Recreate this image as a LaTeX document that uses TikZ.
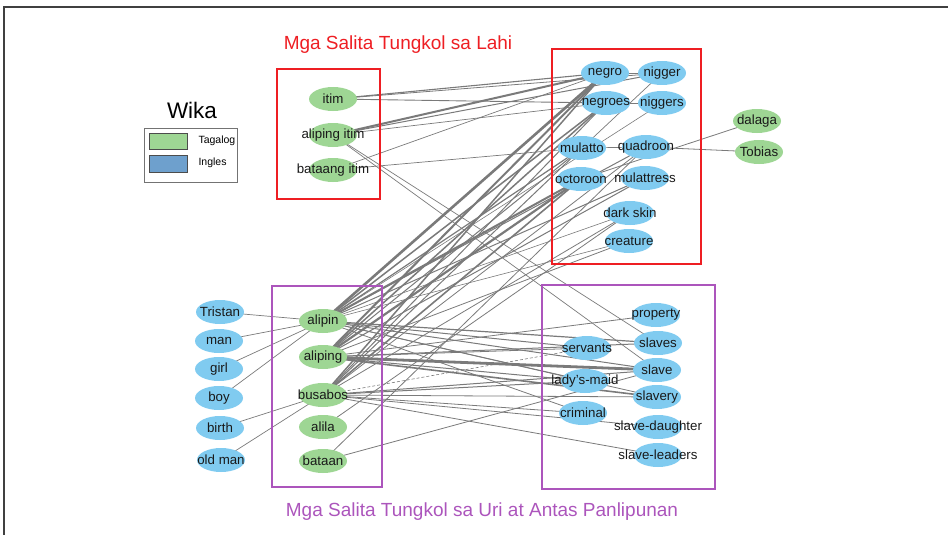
\documentclass[tikz,border=0pt]{standalone}
\usepackage{fontspec}
\setmainfont{Liberation Sans}
\usetikzlibrary{shapes.geometric}
\pgfdeclarelayer{bg}
\pgfsetlayers{bg,main}
\definecolor{gfill}{RGB}{158,214,148}
\definecolor{bfill}{RGB}{128,203,240}
\definecolor{lgreen}{RGB}{158,214,148}
\definecolor{lblue}{RGB}{110,160,205}
\definecolor{redc}{RGB}{238,30,35}
\definecolor{purc}{RGB}{172,85,188}
\definecolor{egray}{RGB}{122,122,122}
\newcommand\zb[1]{\makebox[0pt]{#1}}
\tikzset{
  tn/.style={ellipse, draw=none, fill=gfill, minimum width=48pt, minimum height=24pt,
    inner sep=0pt, font=\fontsize{13.3}{13.3}\selectfont, text=black!90},
  en/.style={tn, fill=bfill},
  ed/.style={draw=egray, line width=#1},
  ed/.default=0.7pt,
  edd/.style={draw=egray, line width=0.6pt, dash pattern=on 3pt off 2pt},
  grpbox/.style={line width=1.1pt}
}
\begin{document}
\begin{tikzpicture}[x=1pt,y=-1pt]
\useasboundingbox (0,0) rectangle (948,535);
% outer frame (top and left only)
\draw[black!75, line width=1.3pt] (4,535) -- (4,7) -- (948,7);
% titles
\node[text=redc, font=\fontsize{19}{19}\selectfont] (t1) at (398,45) {Mga Salita Tungkol sa Lahi};
\node[text=purc, font=\fontsize{19}{19}\selectfont] (t2) at (482,512) {Mga Salita Tungkol sa Uri at Antas Panlipunan};
\node[font=\fontsize{22.5}{22.5}\selectfont] (wika) at (192,110) {Wika};
% legend
\draw[black!55, line width=0.8pt, fill=white] (144,128) rectangle (237,182);
\draw[black!70, fill=lgreen, line width=0.6pt] (149,133) rectangle (187,149);
\draw[black!70, fill=lblue, line width=0.6pt] (149,155) rectangle (187,172);
\node[anchor=west, font=\fontsize{10.5}{10.5}\selectfont] (lt) at (195,141) {Tagalog};
\node[anchor=west, font=\fontsize{10.5}{10.5}\selectfont] (li) at (195,163) {Ingles};
% group boxes
\draw[redc, grpbox] (277,69) rectangle (380,199);
\draw[redc, grpbox] (552,49) rectangle (701,264);
\draw[purc, grpbox] (272,286) rectangle (382,487);
\draw[purc, grpbox] (542,285) rectangle (715,489);
% top-left Tagalog
\node[tn] (itim) at (333,99) {\zb{itim}};
\node[tn] (alitim) at (333,135) {\zb{aliping itim}};
\node[tn] (batitim) at (333,170) {\zb{bataang itim}};
% top-right English
\node[en] (negro) at (605,73) {\zb{negro}};
\node[en] (nigger) at (662,73) {\zb{nigger}};
\node[en] (negroes) at (606,103) {\zb{negroes}};
\node[en] (niggers) at (662,103) {\zb{niggers}};
\node[en] (mulatto) at (582,148) {\zb{mulatto}};
\node[en] (quad) at (646,147) {\zb{quadroon}};
\node[en] (octo) at (581,179) {\zb{octoroon}};
\node[en] (mulattress) at (645,178) {\zb{mulattress}};
\node[en] (dark) at (630,213) {\zb{dark skin}};
\node[en] (creature) at (629,241) {\zb{creature}};
\node[tn] (dalaga) at (757,121) {\zb{dalaga}};
\node[tn] (tobias) at (759,152) {\zb{Tobias}};
% bottom-left
\node[en] (tristan) at (220,312) {\zb{Tristan}};
\node[en] (man) at (219,341) {\zb{man}};
\node[en] (girl) at (219,369) {\zb{girl}};
\node[en] (boy) at (219,398) {\zb{boy}};
\node[en] (birth) at (220,428) {\zb{birth}};
\node[en] (oldman) at (221,460) {\zb{old man}};
\node[tn] (alipin) at (323,321) {\zb{alipin}};
\node[tn] (aliping) at (323,357) {\zb{aliping}};
\node[tn] (busabos) at (323,395) {\zb{busabos}};
\node[tn] (alila) at (323,427) {\zb{alila}};
\node[tn] (bataan) at (323,461) {\zb{bataan}};
% bottom-right
\node[en] (property) at (656,315) {\zb{property}};
\node[en] (slaves) at (658,343) {\zb{slaves}};
\node[en] (servants) at (587,348) {\zb{servants}};
\node[en] (slave) at (657,370) {\zb{slave}};
\node[en] (ladymaid) at (585,381) {\zb{lady's-maid}};
\node[en] (slavery) at (657,397) {\zb{slavery}};
\node[en] (criminal) at (583,413) {\zb{criminal}};
\node[en] (sdaughter) at (658,427) {\zb{slave-daughter}};
\node[en] (sleaders) at (658,455) {\zb{slave-leaders}};
\begin{pgfonlayer}{bg}
% top-left to top-right
\draw[ed=1.1pt] (itim.center) -- (negro.center);
\draw[ed=0.8pt] (itim.center) -- (nigger.center);
\draw[ed=0.9pt] (itim.center) -- (negroes.center);
\draw[ed=2pt] (alitim.center) -- (negro.center);
\draw[ed=1pt] (alitim.center) -- (nigger.center);
\draw[ed=0.7pt] (alitim.center) -- (negroes.center);
\draw[ed=0.7pt] (batitim.center) -- (negro.center);
\draw[ed=0.7pt] (batitim.center) -- (mulatto.center);
\draw[ed=0.7pt] (alitim.center) -- (slaves.center);
\draw[ed=0.7pt] (alitim.center) -- (slave.center);
% top-right internal
\draw[ed=0.7pt] (negro.center) -- (nigger.center);
\draw[ed=0.7pt] (negroes.center) -- (niggers.center);
\draw[ed=0.7pt] (mulatto.center) -- (quad.center);
\draw[ed=0.8pt] (quad.center) -- (tobias.center);
\draw[ed=0.8pt] (dalaga.center) -- (octo.center);
\draw[ed=0.7pt] (nigger.center) -- (mulatto.center);
% bottom-left internal
\draw[ed=0.7pt] (tristan.center) -- (alipin.center);
\draw[ed=0.7pt] (man.center) -- (alipin.center);
\draw[ed=0.7pt] (girl.center) -- (alipin.center);
\draw[ed=0.7pt] (boy.center) -- (alipin.center);
\draw[ed=0.7pt] (birth.center) -- (busabos.center);
\draw[ed=0.7pt] (oldman.center) -- (busabos.center);
% bottom-left to top-right
\draw[ed=2.6pt] (alipin.center) -- (negro.center);
\draw[ed=1.5pt] (alipin.center) -- (negroes.center);
\draw[ed=1.2pt] (alipin.center) -- (mulatto.center);
\draw[ed=2pt] (alipin.center) -- (octo.center);
\draw[ed=1pt] (alipin.center) -- (quad.center);
\draw[ed=1pt] (alipin.center) -- (mulattress.center);
\draw[ed=0.6pt] (alipin.center) -- (dark.center);
\draw[ed=0.6pt] (alipin.center) -- (creature.center);
\draw[ed=0.6pt] (alipin.center) -- (niggers.center);
\draw[ed=2pt] (aliping.center) -- (negro.center);
\draw[ed=1.5pt] (aliping.center) -- (negroes.center);
\draw[ed=1pt] (aliping.center) -- (mulatto.center);
\draw[ed=2.2pt] (aliping.center) -- (octo.center);
\draw[ed=1pt] (aliping.center) -- (mulattress.center);
\draw[ed=0.8pt] (aliping.center) -- (creature.center);
\draw[ed=1.5pt] (busabos.center) -- (negro.center);
\draw[ed=1pt] (busabos.center) -- (negroes.center);
\draw[ed=1.6pt] (busabos.center) -- (octo.center);
\draw[ed=1pt] (busabos.center) -- (mulatto.center);
\draw[ed=0.8pt] (busabos.center) -- (dark.center);
\draw[ed=0.8pt] (busabos.center) -- (quad.center);
\draw[ed=0.8pt] (alila.center) -- (dark.center);
\draw[ed=0.8pt] (bataan.center) -- (quad.center);
% bottom-left to bottom-right
\draw[ed=1.2pt] (alipin.center) -- (slaves.center);
\draw[ed=1pt] (alipin.center) -- (servants.center);
\draw[ed=1pt] (alipin.center) -- (slave.center);
\draw[ed=0.8pt] (alipin.center) -- (ladymaid.center);
\draw[ed=0.8pt] (alipin.center) -- (slavery.center);
\draw[ed=0.8pt] (alipin.center) -- (criminal.center);
\draw[ed=0.8pt] (aliping.center) -- (property.center);
\draw[ed=2.8pt] (aliping.center) -- (slave.center);
\draw[ed=1pt] (aliping.center) -- (slaves.center);
\draw[ed=1.6pt] (aliping.center) -- (slavery.center);
\draw[ed=1pt] (aliping.center) -- (ladymaid.center);
\draw[ed=0.8pt] (aliping.center) -- (servants.center);
\draw[edd] (busabos.center) -- (servants.center);
\draw[ed=1pt] (busabos.center) -- (slave.center);
\draw[ed=1pt] (busabos.center) -- (ladymaid.center);
\draw[ed=0.8pt] (busabos.center) -- (criminal.center);
\draw[ed=0.8pt] (busabos.center) -- (sdaughter.center);
\draw[ed=0.8pt] (busabos.center) -- (sleaders.center);
\draw[ed=0.8pt] (busabos.center) -- (slavery.center);
\draw[ed=0.8pt] (bataan.center) -- (slave.center);
\end{pgfonlayer}
\end{tikzpicture}
\end{document}
